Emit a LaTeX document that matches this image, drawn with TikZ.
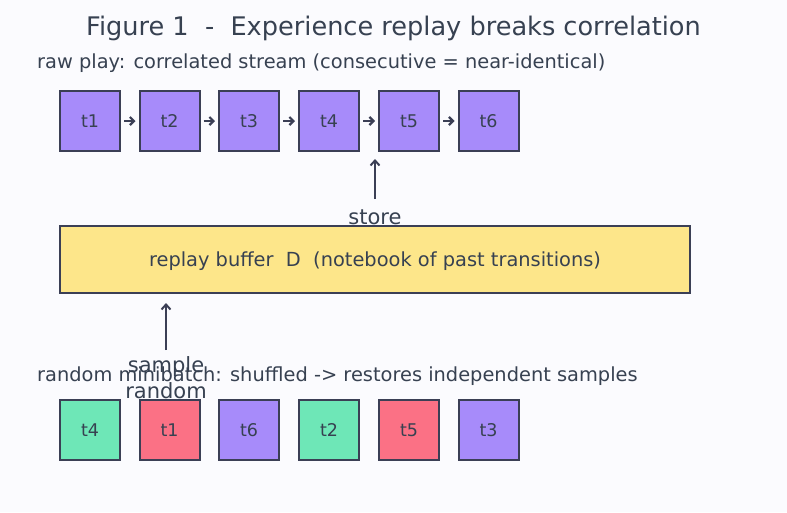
\documentclass[tikz,border=0pt]{standalone}
\usepackage{fontspec}
\setmainfont{DejaVu Sans}
\usetikzlibrary{arrows.meta}
\definecolor{ink}{HTML}{374151}
\definecolor{edge}{HTML}{3B3F55}
\definecolor{bg}{HTML}{FBFBFE}
\definecolor{purp}{HTML}{A78BFA}
\definecolor{grn}{HTML}{6EE7B7}
\definecolor{rd}{HTML}{FB7185}
\definecolor{yel}{HTML}{FDE68A}
\tikzset{
  tbox/.style={draw=edge, line width=2pt, minimum width=60pt, minimum height=60pt, inner sep=0pt, text=ink, font=\fontsize{17.5}{20}\selectfont},
  conn/.style={draw=edge, line width=2pt, -{Straight Barb[length=5pt,width=9pt,line width=2pt]}},
  lbl/.style={text=ink, inner sep=0pt, font=\fontsize{19.4}{22}\selectfont},
  big/.style={text=ink, inner sep=0pt, font=\fontsize{21}{24}\selectfont},
}
\begin{document}
\begin{tikzpicture}[x=1pt,y=-1pt]
\fill[bg] (0,0) rectangle (787,512);
\useasboundingbox (0,0) rectangle (787,512);
\node[text=ink, font=\fontsize{25.6}{30}\selectfont] (title) at (393.5,28) {Figure 1\ \ -\ \ Experience replay breaks correlation};
\node[lbl, anchor=west] (raw) at (37,63.5) {raw play: correlated stream (consecutive = near-identical)};
\foreach \n/\x in {1/90,2/169.5,3/249,4/329,5/409,6/488.5}{
  \node[tbox, fill=purp] (a\n) at (\x,121) {t\n};
}
\foreach \i/\j in {1/2,2/3,3/4,4/5,5/6}{
  \draw[conn, -{Straight Barb[length=4pt,width=8pt,line width=2.2pt]}] ([xshift=3pt]a\i.east) -- ([xshift=-3pt]a\j.west);
}
\node[draw=edge, line width=2pt, fill=yel, minimum width=630pt, minimum height=67pt, inner sep=0pt] (buf) at (375,259.5) {};
\node[lbl] (buftxt) at (375,261.5) {replay buffer\ \ D\ \ (notebook of past transitions)};
\coordinate (st0) at (375,199);
\coordinate (st1) at (375,159);
\draw[conn] (st0) -- (st1);
\node[big] (store) at (375,217) {store};
\coordinate (sa0) at (166,350);
\coordinate (sa1) at (166,303);
\draw[conn] (sa0) -- (sa1);
\node[lbl, anchor=west] (rnd) at (37,376.5) {random minibatch: shuffled -> restores independent samples};
\node[big] (samp) at (166,367) {sample};
\node[big] (rand) at (166,391) {random};
\node[tbox, fill=grn] (b1) at (90,430) {t4};
\node[tbox, fill=rd] (b2) at (169.5,430) {t1};
\node[tbox, fill=purp] (b3) at (249,430) {t6};
\node[tbox, fill=grn] (b4) at (329,430) {t2};
\node[tbox, fill=rd] (b5) at (409,430) {t5};
\node[tbox, fill=purp] (b6) at (488.5,430) {t3};
\end{tikzpicture}
\end{document}
